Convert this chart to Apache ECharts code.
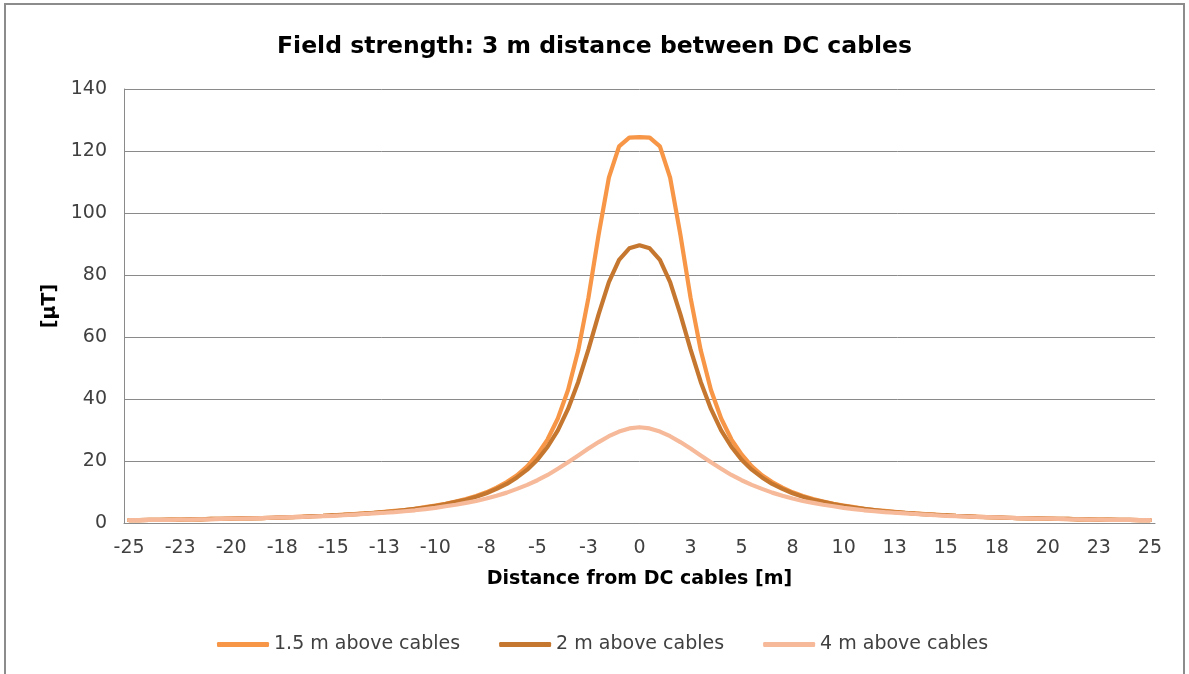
<!DOCTYPE html>
<html>
<head>
<meta charset="utf-8">
<script src="https://cdn.jsdelivr.net/npm/echarts@6/dist/echarts.min.js"></script>
<style>
    html, body { margin: 0; padding: 0; background: #fff; }
    #fieldChart { width: 1189px; height: 674px; }
</style>
</head>
<body>
<div id="fieldChart"></div>
<script>
// distance from the cables, every 0.5 m
var distances = [-25, -24.5, -24, -23.5, -23, -22.5, -22, -21.5, -21, -20.5, -20, -19.5, -19, -18.5, -18, -17.5, -17, -16.5, -16, -15.5,
    -15, -14.5, -14, -13.5, -13, -12.5, -12, -11.5, -11, -10.5, -10, -9.5, -9, -8.5, -8, -7.5, -7, -6.5, -6, -5.5,
    -5, -4.5, -4, -3.5, -3, -2.5, -2, -1.5, -1, -0.5, 0, 0.5, 1, 1.5, 2, 2.5, 3, 3.5, 4, 4.5,
    5, 5.5, 6, 6.5, 7, 7.5, 8, 8.5, 9, 9.5, 10, 10.5, 11, 11.5, 12, 12.5, 13, 13.5, 14, 14.5,
    15, 15.5, 16, 16.5, 17, 17.5, 18, 18.5, 19, 19.5, 20, 20.5, 21, 21.5, 22, 22.5, 23, 23.5, 24, 24.5, 25];

var seriesNames = ['1.5 m above cables', '2 m above cables', '4 m above cables'];

// [µT]
var field15 = [0.9, 0.9, 1.0, 1.0, 1.1, 1.1, 1.2, 1.2, 1.3, 1.3, 1.4, 1.5, 1.6, 1.6, 1.7, 1.8, 1.9, 2.1, 2.2, 2.3,
    2.5, 2.7, 2.9, 3.1, 3.3, 3.6, 3.9, 4.2, 4.6, 5.1, 5.6, 6.2, 6.9, 7.7, 8.7, 9.9, 11.4, 13.2, 15.4, 18.3,
    22.1, 27.0, 33.7, 42.9, 55.7, 72.7, 93.1, 111.4, 121.5, 124.3, 124.5, 124.3, 121.5, 111.4, 93.1, 72.7, 55.7, 42.9, 33.7, 27.0,
    22.1, 18.3, 15.4, 13.2, 11.4, 9.9, 8.7, 7.7, 6.9, 6.2, 5.6, 5.1, 4.6, 4.2, 3.9, 3.6, 3.3, 3.1, 2.9, 2.7,
    2.5, 2.3, 2.2, 2.1, 1.9, 1.8, 1.7, 1.6, 1.6, 1.5, 1.4, 1.3, 1.3, 1.2, 1.2, 1.1, 1.1, 1.0, 1.0, 0.9, 0.9];

var field2 = [0.9, 0.9, 1.0, 1.0, 1.1, 1.1, 1.2, 1.2, 1.3, 1.3, 1.4, 1.5, 1.5, 1.6, 1.7, 1.8, 1.9, 2.0, 2.2, 2.3,
    2.5, 2.6, 2.8, 3.0, 3.3, 3.5, 3.8, 4.2, 4.6, 5.0, 5.5, 6.1, 6.8, 7.5, 8.5, 9.6, 11.0, 12.6, 14.7, 17.2,
    20.4, 24.6, 29.9, 36.8, 45.5, 56.0, 67.4, 77.7, 84.9, 88.6, 89.6, 88.6, 84.9, 77.7, 67.4, 56.0, 45.5, 36.8, 29.9, 24.6,
    20.4, 17.2, 14.7, 12.6, 11.0, 9.6, 8.5, 7.5, 6.8, 6.1, 5.5, 5.0, 4.6, 4.2, 3.8, 3.5, 3.3, 3.0, 2.8, 2.6,
    2.5, 2.3, 2.2, 2.0, 1.9, 1.8, 1.7, 1.6, 1.5, 1.5, 1.4, 1.3, 1.3, 1.2, 1.2, 1.1, 1.1, 1.0, 1.0, 0.9, 0.9];

var field4 = [0.9, 0.9, 1.0, 1.0, 1.0, 1.1, 1.1, 1.2, 1.2, 1.3, 1.4, 1.4, 1.5, 1.6, 1.7, 1.8, 1.9, 2.0, 2.1, 2.2,
    2.3, 2.5, 2.7, 2.9, 3.1, 3.3, 3.5, 3.8, 4.1, 4.5, 4.9, 5.4, 5.9, 6.5, 7.1, 7.9, 8.8, 9.8, 11.0, 12.3,
    13.8, 15.5, 17.5, 19.6, 21.8, 24.0, 26.1, 28.0, 29.5, 30.5, 30.9, 30.5, 29.5, 28.0, 26.1, 24.0, 21.8, 19.6, 17.5, 15.5,
    13.8, 12.3, 11.0, 9.8, 8.8, 7.9, 7.1, 6.5, 5.9, 5.4, 4.9, 4.5, 4.1, 3.8, 3.5, 3.3, 3.1, 2.9, 2.7, 2.5,
    2.3, 2.2, 2.1, 2.0, 1.9, 1.8, 1.7, 1.6, 1.5, 1.4, 1.4, 1.3, 1.2, 1.2, 1.1, 1.1, 1.0, 1.0, 1.0, 0.9, 0.9];

var yTicks = { min: 0, max: 140, step: 20 };

var colors = ['#F79646', '#C6772F', '#F6BA9A'];
var fontName = 'DejaVu Sans';
var gridColor = '#8A8A8A';

var chart = echarts.init(document.getElementById('fieldChart'));

// excel rounds the half-metre labels away from zero (-22.5 -> -23)
function xLabel(v) {
    var n = Number(v);
    return (n < 0 ? '-' : '') + Math.round(Math.abs(n));
}

function lineSeries(name, data, color) {
    return {
        name: name,
        type: 'line',
        data: data,
        showSymbol: false,
        symbol: 'none',
        smooth: false,
        animation: false,
        lineStyle: { color: color, width: 4.2, cap: 'round', join: 'round' },
        itemStyle: { color: color }
    };
}

var option = {
    animation: false,
    backgroundColor: '#fff',
    textStyle: { fontFamily: fontName },
    title: {
        text: 'Field strength: 3 m distance between DC cables',
        left: 'center',
        top: 30,
        textStyle: { fontFamily: fontName, fontSize: 23.5, fontWeight: 'bold', color: '#000' }
    },
    graphic: [{
        type: 'rect',
        shape: { x: 5, y: 4, width: 1179, height: 690 },
        style: { fill: 'none', stroke: '#8C8C8C', lineWidth: 2 },
        silent: true
    }],
    grid: { left: 124, top: 89, width: 1031, height: 434, containLabel: false },
    legend: {
        data: seriesNames,
        left: 212,
        top: 630,
        itemWidth: 52,
        itemHeight: 5,
        itemGap: 39,
        icon: 'roundRect',
        textStyle: { fontFamily: fontName, fontSize: 19, color: '#404040' }
    },
    xAxis: {
        type: 'category',
        data: distances,
        boundaryGap: true,
        name: 'Distance from DC cables [m]',
        nameLocation: 'middle',
        nameGap: 47,
        nameTextStyle: { fontFamily: fontName, fontSize: 19, fontWeight: 'bold', color: '#000' },
        axisLine: { lineStyle: { color: gridColor, width: 1 } },
        axisTick: { show: false },
        axisLabel: {
            interval: 4,
            margin: 16,
            formatter: xLabel,
            fontFamily: fontName,
            fontSize: 19,
            color: '#404040'
        },
        splitLine: { show: false }
    },
    yAxis: {
        type: 'value',
        min: yTicks.min,
        max: yTicks.max,
        interval: yTicks.step,
        name: '[µT]',
        nameLocation: 'middle',
        nameGap: 56,
        nameRotate: 90,
        nameTextStyle: { fontFamily: fontName, fontSize: 19, fontWeight: 'bold', color: '#000' },
        axisLine: { show: true, lineStyle: { color: gridColor, width: 1 } },
        axisTick: { show: false },
        axisLabel: { margin: 17, fontFamily: fontName, fontSize: 19, color: '#404040' },
        splitLine: { lineStyle: { color: gridColor, width: 1 } }
    },
    series: [
        lineSeries(seriesNames[0], field15, colors[0]),
        lineSeries(seriesNames[1], field2, colors[1]),
        lineSeries(seriesNames[2], field4, colors[2])
    ]
};

chart.setOption(option);
</script>
</body>
</html>
